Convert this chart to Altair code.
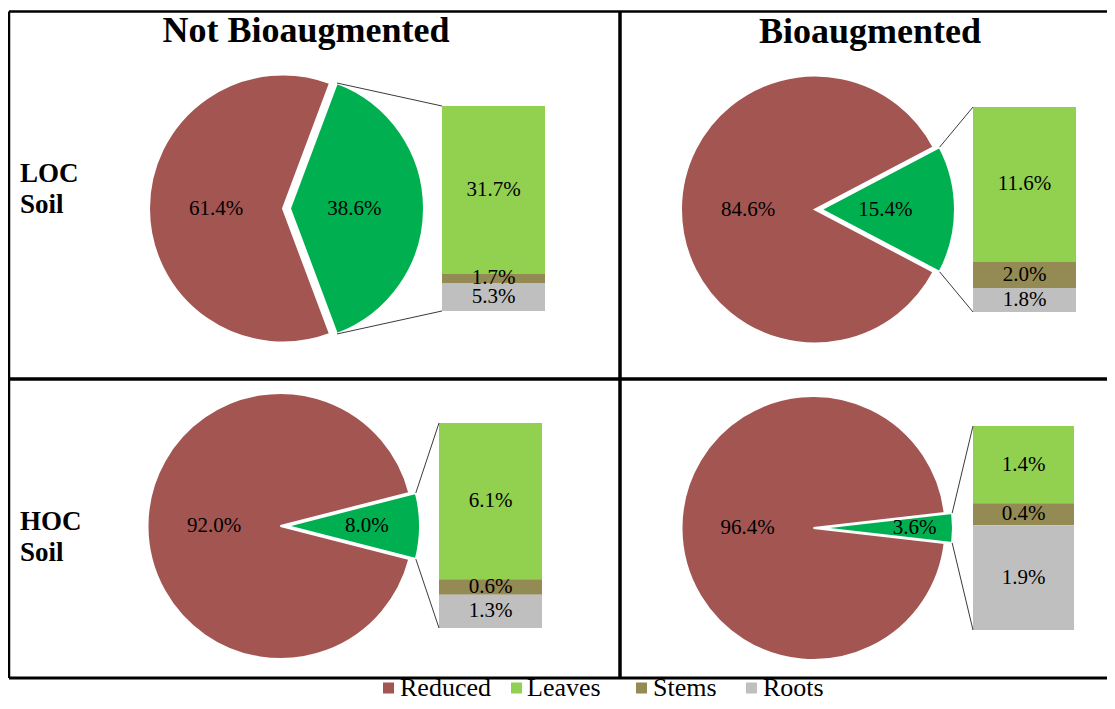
import math
import altair as alt
import pandas as pd

# ---------------- data ----------------
soils = ["LOC", "LOC", "HOC", "HOC"]
treatments = ["Not Bioaugmented", "Bioaugmented", "Not Bioaugmented", "Bioaugmented"]
reduced = [61.4, 84.6, 92.0, 96.4]
leaves = [31.7, 11.6, 6.1, 1.4]
stems = [1.7, 2.0, 0.6, 0.4]
roots = [5.3, 1.8, 1.3, 1.9]
part_names = ["Leaves", "Stems", "Roots"]
legend_order = ["Reduced", "Leaves", "Stems", "Roots"]
column_titles = ["Not Bioaugmented", "Bioaugmented"]
row_titles = [["LOC", "Soil"], ["HOC", "Soil"]]

# ---------------- layout (page pixels) ----------------
W, H = 1099, 693
OX, OY = 8, 8
pie_cx = [283, 815, 280.5, 813.5]
pie_cy = [208.5, 209.5, 526, 528]
pie_r = [134, 134, 133, 132]
explode = [7, 6, 6.5, 7.5]
bar_x = [(442, 545), (973, 1076), (439, 542), (973, 1074)]
bar_y = [(106, 311), (107, 312), (423, 628), (426, 630)]
red_lab = [0.5, 0.5, 0.5, 0.5]
green_lab = [0.48, 0.48, 0.6, 0.71]
title_pos = [(306, 42), (870, 43)]
row_pos = [(20, 182, 213), (20, 530, 561)]
legend_sym_x = [388.5, 516.5, 641.5, 751.5]
legend_txt_x = [400, 527, 653, 763]
legend_y = 696

COLORS = ["#A35552", "#92D050", "#948A54", "#BFBFBF"]
GREEN = "#00B050"
SERIF = "Liberation Serif, Times New Roman, serif"

# ---------------- tables ----------------
arc_rows, lab_rows, bar_rows, link_rows = [], [], [], []
for i in range(4):
    g = 100 - reduced[i]
    gs = math.pi / 2 - math.pi * g / 100
    ge = math.pi / 2 + math.pi * g / 100
    gcx = pie_cx[i] + explode[i]
    cy = pie_cy[i]
    r = pie_r[i]
    arc_rows.append(dict(kind="red", part="Reduced", cx=pie_cx[i], cy=cy, r=r,
                         t0=ge, t1=gs + 2 * math.pi))
    arc_rows.append(dict(kind="green", part="Plant", cx=gcx, cy=cy, r=r, t0=gs, t1=ge))
    lab_rows.append(dict(cx=pie_cx[i], cy=cy, tm=(ge + gs + 2 * math.pi) / 2,
                         lr=red_lab[i] * r, label=f"{reduced[i]:.1f}%"))
    lab_rows.append(dict(cx=gcx, cy=cy, tm=(gs + ge) / 2,
                         lr=green_lab[i] * r, label=f"{g:.1f}%"))
    vals = [leaves[i], stems[i], roots[i]]
    tot = sum(vals)
    x0, x1 = bar_x[i]
    y0, y1 = bar_y[i]
    cum = 0.0
    for name, v in zip(part_names, vals):
        a = y0 + (y1 - y0) * cum / tot
        cum += v
        b = y0 + (y1 - y0) * cum / tot
        bar_rows.append(dict(part=name, x0=x0, x1=x1, y0=a, y1=b,
                             xm=(x0 + x1) / 2, ym=(a + b) / 2, label=f"{v:.1f}%"))
    link_rows.append(dict(x=gcx + r * math.sin(gs), y=cy - r * math.cos(gs), x2=x0, y2=y0))
    link_rows.append(dict(x=gcx + r * math.sin(ge), y=cy - r * math.cos(ge), x2=x0, y2=y1))

arcs = pd.DataFrame(arc_rows)
labs = pd.DataFrame(lab_rows)
bars = pd.DataFrame(bar_rows)
links = pd.DataFrame(link_rows)
leg = pd.DataFrame(dict(part=legend_order, sx=legend_sym_x, tx=legend_txt_x,
                        sy=[legend_y - 8] * 4, ty=[legend_y] * 4))

frame = pd.DataFrame([
    dict(x=9, y=11.5, x2=OX + W, y2=11.5, w=2.5),
    dict(x=9, y=678, x2=OX + W, y2=678, w=3),
    dict(x=9, y=11.5, x2=9, y2=678, w=2.5),
    dict(x=620, y=11.5, x2=620, y2=678, w=3.5),
    dict(x=9, y=379, x2=OX + W, y2=379, w=3.5),
])
titles = pd.DataFrame([dict(x=p[0], y=p[1], text=t) for p, t in zip(title_pos, column_titles)])
rows = pd.DataFrame(
    [dict(x=p[0], y=p[1], text=t[0]) for p, t in zip(row_pos, row_titles)]
    + [dict(x=p[0], y=p[2], text=t[1]) for p, t in zip(row_pos, row_titles)]
)

# ---------------- scales ----------------
xs = alt.Scale(domain=[OX, OX + W], range=[0, W], nice=False, zero=False)
ys = alt.Scale(domain=[OY, OY + H], range=[0, H], nice=False, zero=False)
cscale = alt.Scale(domain=legend_order, range=COLORS)

X = lambda f: alt.X(f, scale=xs, axis=None)
Y = lambda f: alt.Y(f, scale=ys, axis=None)
C = alt.Color("part:N", scale=cscale, legend=None)

frame_layer = alt.Chart(frame).mark_rule(color="black").encode(
    x=X("x:Q"), y=Y("y:Q"), x2="x2:Q", y2="y2:Q",
    strokeWidth=alt.StrokeWidth("w:Q", scale=None),
)
bar_layer = alt.Chart(bars).mark_rect().encode(
    x=X("x0:Q"), x2="x1:Q", y=Y("y0:Q"), y2="y1:Q", color=C,
)
red_layer = alt.Chart(arcs[arcs.kind == "red"]).mark_arc(stroke="white", strokeWidth=2).encode(
    x=X("cx:Q"), y=Y("cy:Q"),
    theta=alt.Theta("t0:Q", scale=None, stack=None), theta2="t1:Q",
    radius=alt.Radius("r:Q", scale=None), color=C,
)
green_layer = alt.Chart(arcs[arcs.kind == "green"]).mark_arc(stroke="white", strokeWidth=2).encode(
    x=X("cx:Q"), y=Y("cy:Q"),
    theta=alt.Theta("t0:Q", scale=None, stack=None), theta2="t1:Q",
    radius=alt.Radius("r:Q", scale=None),
    color=alt.value(GREEN),
)
link_layer = alt.Chart(links).mark_rule(color="#3a3a3a", strokeWidth=1).encode(
    x=X("x:Q"), y=Y("y:Q"), x2="x2:Q", y2="y2:Q",
)
pie_text = alt.Chart(labs).mark_text(font=SERIF, fontSize=21, color="black", baseline="middle").encode(
    x=X("cx:Q"), y=Y("cy:Q"),
    theta=alt.Theta("tm:Q", scale=None, stack=None),
    radius=alt.Radius("lr:Q", scale=None),
    text="label:N",
)
bar_text = alt.Chart(bars).mark_text(font=SERIF, fontSize=21, color="black", baseline="middle").encode(
    x=X("xm:Q"), y=Y("ym:Q"), text="label:N",
)
title_layer = alt.Chart(titles).mark_text(
    font=SERIF, fontSize=36, fontWeight="bold", color="black", baseline="alphabetic", align="center"
).encode(x=X("x:Q"), y=Y("y:Q"), text="text:N")
row_layer = alt.Chart(rows).mark_text(
    font=SERIF, fontSize=27, fontWeight="bold", color="black", baseline="alphabetic", align="left"
).encode(x=X("x:Q"), y=Y("y:Q"), text="text:N")
leg_sym = alt.Chart(leg).mark_square(size=121, opacity=1, strokeWidth=0).encode(
    x=X("sx:Q"), y=Y("sy:Q"), color=C,
)
leg_txt = alt.Chart(leg).mark_text(
    font=SERIF, fontSize=26, color="black", baseline="alphabetic", align="left"
).encode(x=X("tx:Q"), y=Y("ty:Q"), text="part:N")

chart = alt.layer(
    frame_layer, bar_layer, red_layer, green_layer, link_layer,
    pie_text, bar_text, title_layer, row_layer, leg_sym, leg_txt,
).properties(
    width=W, height=H, padding=0, autosize=alt.AutoSizeParams(type="none"),
    background="white",
).configure_view(stroke=None)

chart.save("out.html", embed_options={"renderer": "svg", "actions": False})
